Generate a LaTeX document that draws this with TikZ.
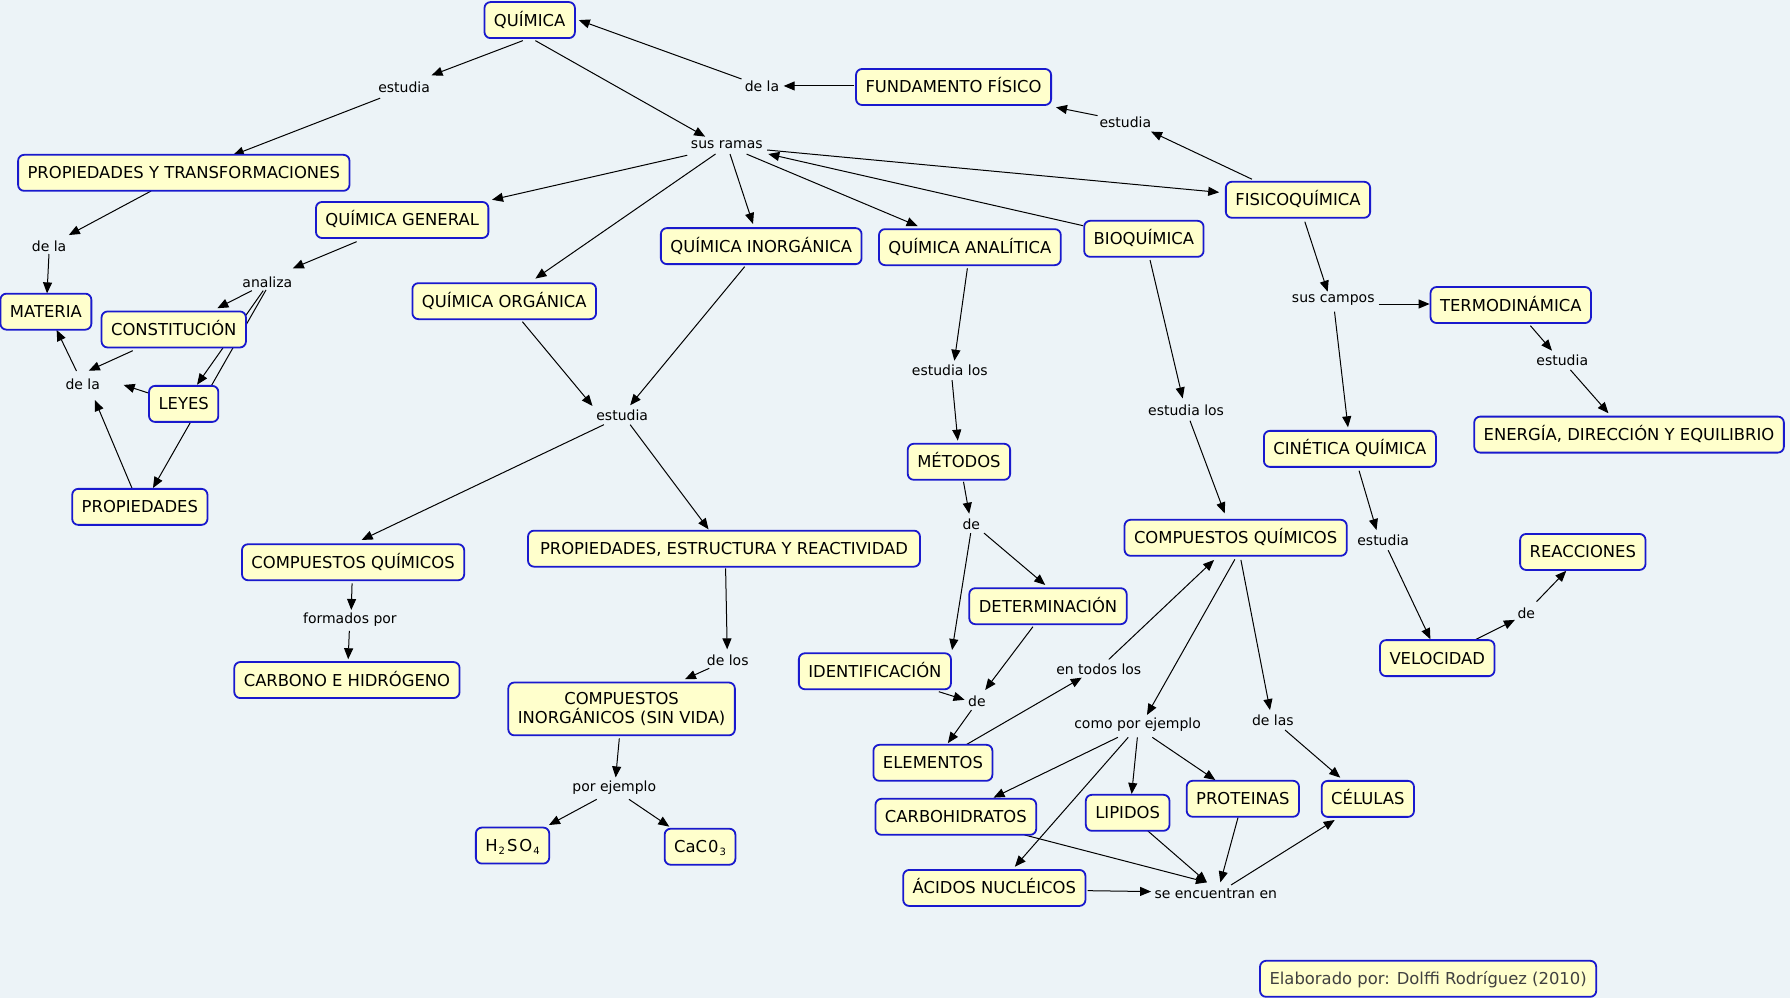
\documentclass[tikz,border=0pt]{standalone}
\usepackage{fontspec}
\setmainfont{DejaVu Sans}
\usetikzlibrary{arrows.meta,calc}
\definecolor{bgc}{RGB}{236,243,247}
\definecolor{cfill}{RGB}{255,255,204}
\definecolor{cborder}{RGB}{25,25,205}
\pgfdeclarelayer{bglayer}
\pgfdeclarelayer{linelayer}
\pgfsetlayers{bglayer,linelayer,main}
\newcommand\cnx[4]{\draw[arr] ($(#1)+(#2)$) -- ($(#3)+(#4)$);}
\newcommand\sbx[1]{\raisebox{-3pt}{\fontsize{10}{10}\selectfont #1}}
\begin{document}
\begin{tikzpicture}[x=1.1416pt,y=-1.1416pt,
  cbase/.style={draw=cborder, fill=cfill, line width=1.8pt, rounded corners=6pt,
    font=\fontsize{16.4}{19.5}\selectfont, inner xsep=9.5pt, inner ysep=12pt},
  concept/.style={cbase, text height=12pt, text depth=0pt},
  link/.style={font=\fontsize{14}{16}\selectfont, inner sep=1pt},
  arr/.style={line width=1pt, -{Triangle[length=11pt,width=9pt]}}]
\begin{pgfonlayer}{bglayer}
\fill[bgc] (0,0) rectangle (1568,874);
\end{pgfonlayer}
\useasboundingbox (0,0) rectangle (1568,874);

% concepts
\node[concept] (qui) at (464,17.6) {QUÍMICA};
\node[concept] (fund) at (835.3,76.2) {FUNDAMENTO FÍSICO};
\node[concept] (propt) at (161,151.4) {PROPIEDADES Y TRANSFORMACIONES};
\node[concept] (qgen) at (352.3,192.7) {QUÍMICA GENERAL};
\node[concept] (qorg) at (441.7,263.8) {QUÍMICA ORGÁNICA};
\node[concept] (qinorg) at (666.8,215.6) {QUÍMICA INORGÁNICA};
\node[concept] (qanal) at (849.6,216.5) {QUÍMICA ANALÍTICA};
\node[concept] (bio) at (1002,209.2) {BIOQUÍMICA};
\node[concept] (fisico) at (1137,175) {FISICOQUÍMICA};
\node[concept] (materia) at (40.2,273) {MATERIA};
\node[concept] (const) at (152.2,288.6) {CONSTITUCIÓN};
\node[concept] (leyes) at (160.9,353.8) {LEYES};
\node[concept] (propied) at (122.5,444) {PROPIEDADES};
\node[concept] (termo) at (1323.4,267.2) {TERMODINÁMICA};
\node[concept] (energia) at (1427,380.7) {ENERGÍA, DIRECCIÓN Y EQUILIBRIO};
\node[concept] (cinet) at (1182.5,393.2) {CINÉTICA QUÍMICA};
\node[concept] (metodos) at (840,404.5) {MÉTODOS};
\node[concept] (cqright) at (1082.4,471.1) {COMPUESTOS QUÍMICOS};
\node[concept] (cqleft) at (309.3,492.5) {COMPUESTOS QUÍMICOS};
\node[concept, inner xsep=12pt] (perx) at (634.2,480.6) {PROPIEDADES, ESTRUCTURA Y REACTIVIDAD};
\node[concept] (reacc) at (1386.5,483.5) {REACCIONES};
\node[concept] (determ) at (918,531) {DETERMINACIÓN};
\node[concept] (ident) at (766.4,588) {IDENTIFICACIÓN};
\node[concept] (veloc) at (1259,576.5) {VELOCIDAD};
\node[concept] (carbh) at (303.9,595.7) {CARBONO E HIDRÓGENO};
\node[cbase, align=center, inner ysep=9.5pt] (cinorg) at (544.5,621) {COMPUESTOS\\INORGÁNICOS (SIN VIDA)};
\node[concept] (elem) at (817.2,668.2) {ELEMENTOS};
\node[concept] (carboh) at (837.3,715.5) {CARBOHIDRATOS};
\node[concept] (lipidos) at (987.8,712) {LIPIDOS};
\node[concept] (prot) at (1088.7,699.7) {PROTEINAS};
\node[concept] (celulas) at (1198.2,699.8) {CÉLULAS};
\node[concept] (h2so4) at (449,740.7) {H\kern1pt\sbx{2}\kern2pt S\kern2pt O\kern1pt\sbx{4}};
\node[concept] (caco3) at (613.2,741.7) {CaC\kern1pt 0\kern1pt\sbx{3}};
\node[concept] (acidos) at (871,777.8) {ÁCIDOS NUCLÉICOS};
\node[concept, text=black!75] (elab) at (1251,857.4) {Elaborado por: Dolffi Rodríguez (2010)};

% linking phrases
\node[link] (est1) at (354,76.5) {estudia};
\node[link] (dela1) at (667.5,75.3) {de la};
\node[link] (est2) at (985.8,106.9) {estudia};
\node[link] (ramas) at (636.7,127) {sus ramas};
\node[link] (dela2) at (43,215.5) {de la};
\node[link] (analiza) at (234.2,247) {analiza};
\node[link] (dela3) at (72.5,337) {de la};
\node[link] (campos) at (1167.9,262.8) {sus campos};
\node[link] (est3) at (1368.5,316) {estudia};
\node[link] (estlos1) at (832,324) {estudia los};
\node[link] (est4) at (545,364) {estudia};
\node[link] (estlos2) at (1039,359.7) {estudia los};
\node[link] (de1) at (850.8,459) {de};
\node[link] (est5) at (1211.6,473.6) {estudia};
\node[link] (formados) at (306.5,543) {formados por};
\node[link] (de2) at (1337,537) {de};
\node[link] (delos) at (637.5,578) {de los};
\node[link] (todos) at (962.5,586) {en todos los};
\node[link] (de3) at (855.7,614) {de};
\node[link] (como) at (996.5,635) {como por ejemplo};
\node[link] (delas) at (1115,631.3) {de las};
\node[link] (porej) at (538.1,690) {por ejemplo};
\node[link] (seenc) at (1065,782.5) {se encuentran en};

\begin{pgfonlayer}{linelayer}
\cnx{qui}{-6,18}{est1}{24,-10.5}
\cnx{est1}{-21,9.5}{propt}{43,-15.4}
\cnx{qui}{5,18}{ramas}{-19,-7.3}
\cnx{fund}{-86.8,-0.9}{dela1}{19,0}
\cnx{dela1}{-17.9,-6.1}{qui}{43,0}
\cnx{fisico}{-40.3,-18}{est2}{22.5,8.4}
\cnx{est2}{-24.4,-5.6}{fund}{89.7,17.8}
\cnx{ramas}{-34.7,9}{qgen}{78.7,-17.7}
\cnx{ramas}{-9.9,7.9}{qorg}{27.3,-19.8}
\cnx{ramas}{2.8,8}{qinorg}{-7.2,-19.4}
\cnx{ramas}{17.3,8}{qanal}{-45.8,-18.5}
\cnx{bio}{-53.3,-11.5}{ramas}{36.3,7.9}
\cnx{ramas}{35.3,4.4}{fisico}{-69,-6.5}
\cnx{propt}{-28.6,15.9}{dela2}{17.3,-9.6}
\cnx{dela2}{-0.1,7}{materia}{1,-16}
\cnx{qgen}{-39.9,19}{analiza}{22.3,-12}
\cnx{analiza}{-13.6,7.6}{const}{38.2,-18.6}
\cnx{analiza}{-3.6,7.6}{leyes}{11.7,-16.8}
\cnx{analiza}{-1.2,7}{propied}{11.5,-16.5}
\cnx{const}{-35.9,18.6}{dela3}{5.3,-12.3}
\cnx{leyes}{-30.2,-9.3}{dela3}{35.8,0.2}
\cnx{propied}{-6.2,-14.8}{dela3}{10.6,13.4}
\cnx{dela3}{-5.5,-12}{materia}{9.4,16}
\cnx{fisico}{6,19.2}{campos}{-4.9,-7.3}
\cnx{campos}{39.7,3.5}{termo}{-71.1,-0.9}
\cnx{campos}{1.1,10.2}{cinet}{-1.7,-18.9}
\cnx{termo}{17.2,18.1}{est3}{-9,-8.8}
\cnx{est3}{7.1,8}{energia}{-18,-18.7}
\cnx{cinet}{8,19.1}{est5}{-5.8,-9.3}
\cnx{est5}{4.4,8.4}{veloc}{-6,-16.5}
\cnx{veloc}{32,-15.5}{de2}{-10,6}
\cnx{de2}{9,-10}{reacc}{-14.5,16.5}
\cnx{qorg}{15.9,18}{est4}{-26,-8.4}
\cnx{qinorg}{-14.5,18}{est4}{7,-9}
\cnx{est4}{-16,8}{cqleft}{7.5,-19.5}
\cnx{est4}{7,8}{perx}{-13.5,-16.9}
\cnx{cqleft}{-0.9,18.5}{formados}{1.2,-8.7}
\cnx{formados}{-0.5,9.7}{carbh}{1.1,-18.2}
\cnx{perx}{1.4,17.2}{delos}{-0.5,-9.2}
\cnx{delos}{-16.2,7.4}{cinorg}{55.5,-26}
\cnx{cinorg}{-2,25.8}{porej}{1.2,-9}
\cnx{porej}{-15.4,10.2}{h2so4}{31.9,-18}
\cnx{porej}{12.9,10.2}{caco3}{-26.9,-17.6}
\cnx{qanal}{-2.2,18.5}{estlos1}{4,-8}
\cnx{estlos1}{2,9}{metodos}{-1,-18.5}
\cnx{metodos}{4,17.5}{de1}{-1.8,-9}
\cnx{de1}{-0.5,8}{ident}{67.6,-18.6}
\cnx{de1}{11.2,8}{determ}{-2.4,-18.6}
\cnx{ident}{56,17.9}{de3}{-10.8,-1}
\cnx{determ}{-13.2,18}{de3}{7.3,-9.6}
\cnx{de3}{-4.7,8}{elem}{13.1,-17.2}
\cnx{elem}{27.7,-15}{todos}{-14.9,7.6}
\cnx{todos}{8.8,-8.4}{cqright}{-18.9,19.4}
\cnx{bio}{5.4,18.6}{estlos2}{-3,-10.7}
\cnx{estlos2}{3.4,8.8}{cqright}{-9.6,-21.4}
\cnx{cqright}{-0.7,18.9}{como}{8.2,-8.7}
\cnx{cqright}{4.6,19.4}{delas}{-2.5,-9.3}
\cnx{delas}{10.7,8.2}{celulas}{-24.2,-18.6}
\cnx{como}{-17.3,10.9}{carboh}{33,-16.8}
\cnx{como}{-8.2,10.9}{acidos}{18,-18.6}
\cnx{como}{-0.2,10.9}{lipidos}{3.5,-16.5}
\cnx{como}{12.9,10.9}{prot}{-24.1,-16.4}
\cnx{carboh}{60.2,15.9}{seenc}{-7.7,-9.6}
\cnx{lipidos}{17.8,16}{seenc}{-7.7,-9.6}
\cnx{prot}{-4.2,16.3}{seenc}{4,-9.6}
\cnx{acidos}{81.7,2.4}{seenc}{-56.7,-1.5}
\cnx{seenc}{13.4,-7.3}{celulas}{-29,18.5}
\end{pgfonlayer}
\end{tikzpicture}
\end{document}
